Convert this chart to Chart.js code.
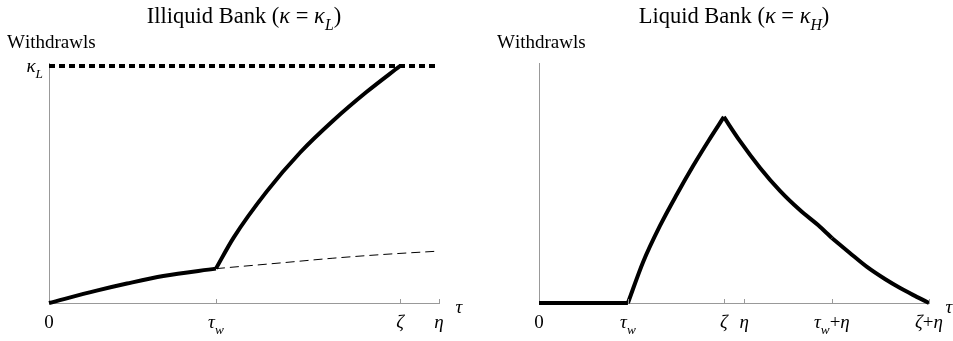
<!DOCTYPE html>
<html>
<head>
<meta charset="utf-8">
<script src="https://cdn.jsdelivr.net/npm/chart.js@4"></script>
<style>
body{margin:0;background:#fff}
#wrap{position:relative;width:953px;height:341px}
canvas{position:absolute;top:0}
</style>
</head>
<body>
<div id="wrap">
<canvas id="illiquid" width="476" height="341" style="left:0"></canvas>
<canvas id="liquid" width="477" height="341" style="left:476px"></canvas>
</div>
<script>
// x in units of eta (left) / zeta+eta (right), y relative to kappa_L
const illiqTickPos = [0, 0.428, 0.9, 1];
const illiqTickLabels = ['0', 'τ_w', 'ζ', 'η'];
const illiqEarlyX = [0, 0.122, 0.2, 0.293, 0.428];
const illiqEarlyY = [0, 0.052, 0.082, 0.114, 0.145];
const illiqRunX = [0.428, 0.473, 0.558, 0.644, 0.729, 0.814, 0.9];
const illiqRunY = [0.145, 0.275, 0.47, 0.635, 0.77, 0.89, 1];
const illiqNoRunX = [0.428, 0.6, 0.728, 0.85, 1];
const illiqNoRunY = [0.145, 0.170, 0.189, 0.204, 0.219];
const kappaLX = [0, 1];
const kappaLY = [1, 1];

const liqTickPos = [0, 0.228, 0.474, 0.526, 0.751, 1];
const liqTickLabels = ['0', 'τ_w', 'ζ', 'η', 'τ_w+η', 'ζ+η'];
const liqFlatX = [0, 0.228];
const liqFlatY = [0, 0];
const liqRiseX = [0.228, 0.267, 0.310, 0.354, 0.395, 0.436, 0.474];
const liqRiseY = [0, 0.173, 0.325, 0.460, 0.578, 0.688, 0.785];
const liqFall1X = [0.474, 0.515, 0.567, 0.618, 0.669, 0.721, 0.751];
const liqFall1Y = [0.785, 0.684, 0.570, 0.473, 0.392, 0.321, 0.274];
const liqFall2X = [0.751, 0.797, 0.841, 0.887, 0.926, 0.964, 1];
const liqFall2Y = [0.274, 0.211, 0.152, 0.101, 0.063, 0.030, 0];

const FONT = '"Liberation Serif", serif';

function pts(xs, ys) {
  return xs.map((x, i) => ({x: x, y: ys[i]}));
}

function line(xs, ys, extra) {
  return Object.assign({
    data: pts(xs, ys),
    borderColor: '#000',
    borderWidth: 4,
    pointRadius: 0,
    fill: false,
    cubicInterpolationMode: 'monotone',
    clip: false
  }, extra || {});
}

// split 'τ_w+η' into styled runs: greek and subscripts italic
function runs(str, size) {
  const out = [];
  for (let i = 0; i < str.length; i++) {
    let c = str[i], sub = false;
    if (c === '_') { c = str[++i]; sub = true; }
    const it = sub || /[κτζη]/.test(c);
    const s = sub ? size * 0.7 : size;
    out.push({t: c, sub: sub, font: (it ? 'italic ' : '') + s + 'px ' + FONT});
  }
  return out;
}

function drawMath(ctx, str, x, y, size, align) {
  const rs = runs(str, size);
  let w = 0;
  rs.forEach(r => { ctx.font = r.font; r.w = ctx.measureText(r.t).width; w += r.w; });
  let cx = align === 'center' ? x - w / 2 : align === 'right' ? x - w : x;
  ctx.textAlign = 'left';
  ctx.textBaseline = 'alphabetic';
  ctx.fillStyle = '#000';
  rs.forEach(r => {
    ctx.font = r.font;
    ctx.fillText(r.t, cx, r.sub ? y + size * 0.3 : y);
    cx += r.w;
  });
}

const mathAxes = {
  id: 'mathAxes',
  afterDraw(chart, args, o) {
    const ctx = chart.ctx, a = chart.chartArea;
    const xs = chart.scales.x, ys = chart.scales.y;
    ctx.save();
    // tick marks pointing up
    ctx.strokeStyle = '#999';
    ctx.lineWidth = 1;
    o.tickPos.forEach(v => {
      if (v === 0) return;
      const px = Math.round(xs.getPixelForValue(v)) + 0.5;
      ctx.beginPath();
      ctx.moveTo(px, a.bottom);
      ctx.lineTo(px, a.bottom - 4);
      ctx.stroke();
    });
    o.tickPos.forEach((v, i) => {
      drawMath(ctx, o.tickLabels[i], xs.getPixelForValue(v), a.bottom + 25, 19, 'center');
    });
    drawMath(ctx, 'τ', a.right + 20, a.bottom + 10, 19, 'center');
    if (o.yTick) drawMath(ctx, o.yTick, a.left - 6, ys.getPixelForValue(1) + 6, 19, 'right');
    drawMath(ctx, 'Withdrawls', a.left - 42, 48, 19, 'left');
    drawMath(ctx, o.title, (a.left + a.right) / 2, 23, 22.5, 'center');
    ctx.restore();
  }
};

function axes() {
  return {
    x: {type: 'linear', min: 0, max: 1, grid: {display: false, drawTicks: false},
        ticks: {display: false}, border: {color: '#999', width: 1}},
    y: {type: 'linear', min: 0, max: 240 / 237, grid: {display: false, drawTicks: false},
        ticks: {display: false}, border: {color: '#999', width: 1}}
  };
}

new Chart(document.getElementById('illiquid'), {
  type: 'line',
  data: {
    datasets: [
      line(kappaLX, kappaLY, {borderDash: [6, 4], borderWidth: 4, cubicInterpolationMode: 'default', tension: 0}),
      line(illiqNoRunX, illiqNoRunY, {borderWidth: 1, borderDash: [9, 5]}),
      line(illiqEarlyX, illiqEarlyY),
      line(illiqRunX, illiqRunY)
    ]
  },
  options: {
    responsive: false,
    animation: false,
    layout: {padding: {left: 49, right: 37, top: 63, bottom: 38}},
    scales: axes(),
    plugins: {
      legend: {display: false},
      tooltip: {enabled: false},
      mathAxes: {title: 'Illiquid Bank (κ = κ_L)', tickPos: illiqTickPos, tickLabels: illiqTickLabels, yTick: 'κ_L'}
    }
  },
  plugins: [mathAxes]
});

new Chart(document.getElementById('liquid'), {
  type: 'line',
  data: {
    datasets: [
      line(liqFlatX, liqFlatY),
      line(liqRiseX, liqRiseY),
      line(liqFall1X, liqFall1Y),
      line(liqFall2X, liqFall2Y)
    ]
  },
  options: {
    responsive: false,
    animation: false,
    layout: {padding: {left: 63, right: 24, top: 63, bottom: 38}},
    scales: axes(),
    plugins: {
      legend: {display: false},
      tooltip: {enabled: false},
      mathAxes: {title: 'Liquid Bank (κ = κ_H)', tickPos: liqTickPos, tickLabels: liqTickLabels}
    }
  },
  plugins: [mathAxes]
});
</script>
</body>
</html>
